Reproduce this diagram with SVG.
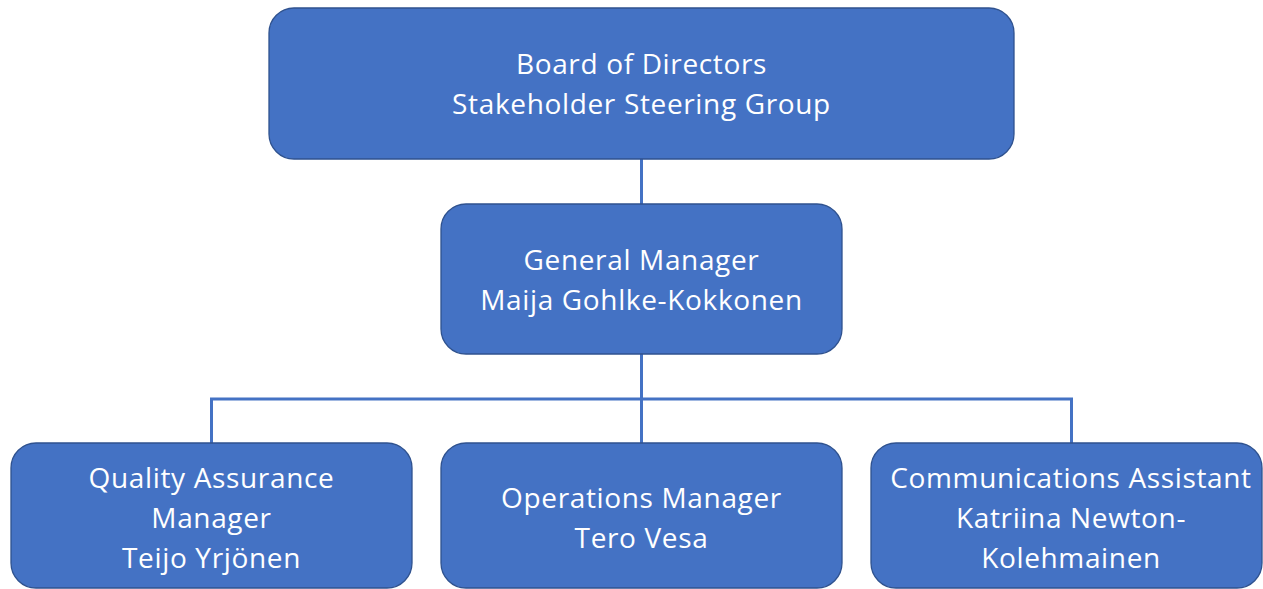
<svg xmlns="http://www.w3.org/2000/svg" width="1263" height="589" viewBox="0 0 1263 589">
  <style>
    .box { fill: #4472C4; stroke: #2F528F; stroke-width: 1.3; }
    .lbl { fill: #FFFFFF; font-family: "Open Sans", Lato, "Liberation Sans", sans-serif; font-size: 28px; letter-spacing: 0.65px; text-anchor: middle; }
    .link { fill: none; stroke: #4472C4; stroke-width: 3; }
  </style>
  <rect x="0" y="0" width="1263" height="589" fill="#FFFFFF"/>

  <!-- reporting lines -->
  <g id="connectors">
    <path class="link" d="M641.5 159 V204"/>
    <path class="link" d="M641.5 354 V443"/>
    <path class="link" d="M211.5 443 V399 H1071.5 V443"/>
  </g>

  <g id="board">
    <rect class="box" x="269" y="8" width="745" height="151" rx="25"/>
    <text class="lbl" x="641.5" y="74">Board of Directors</text>
    <text class="lbl" x="641.5" y="114">Stakeholder Steering Group</text>
  </g>

  <g id="general-manager">
    <rect class="box" x="441" y="204" width="401" height="150" rx="25"/>
    <text class="lbl" x="641.5" y="270">General Manager</text>
    <text class="lbl" x="641.5" y="310">Maija Gohlke-Kokkonen</text>
  </g>

  <g id="qa-manager">
    <rect class="box" x="11" y="443" width="401" height="145" rx="25"/>
    <text class="lbl" x="211.5" y="488">Quality Assurance</text>
    <text class="lbl" x="211.5" y="528">Manager</text>
    <text class="lbl" x="211.5" y="568">Teijo Yrjönen</text>
  </g>

  <g id="operations-manager">
    <rect class="box" x="441" y="443" width="401" height="145" rx="25"/>
    <text class="lbl" x="641.5" y="508">Operations Manager</text>
    <text class="lbl" x="641.5" y="548">Tero Vesa</text>
  </g>

  <g id="communications-assistant">
    <rect class="box" x="871" y="443" width="391" height="145" rx="25"/>
    <text class="lbl" x="1071" y="488">Communications Assistant</text>
    <text class="lbl" x="1071" y="528">Katriina Newton-</text>
    <text class="lbl" x="1071" y="568">Kolehmainen</text>
  </g>
</svg>
